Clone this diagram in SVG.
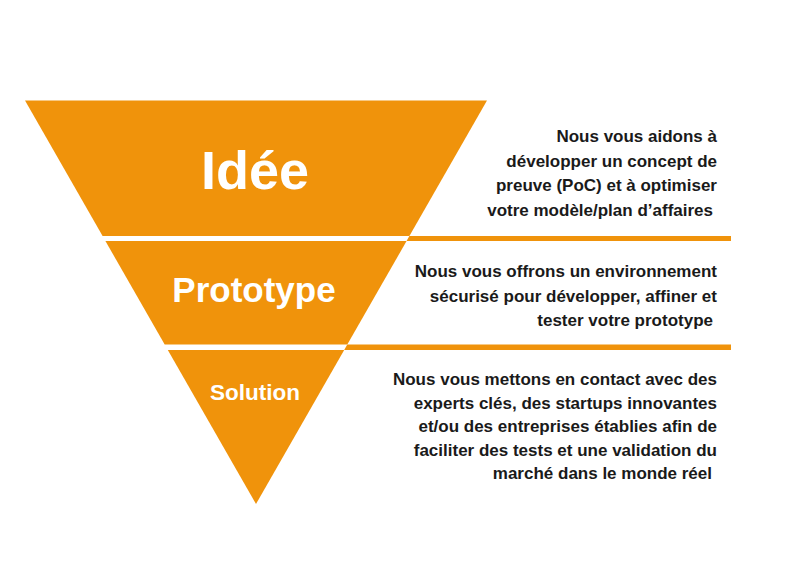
<svg xmlns="http://www.w3.org/2000/svg" width="800" height="566" viewBox="0 0 800 566">
  <style>
    .tier { fill: #F0930B; }
    .divider { fill: #F0930B; }
    .title { font-family: "Liberation Sans", Arial, sans-serif; font-weight: bold; fill: #ffffff; text-anchor: middle; }
    .desc { font-family: "Liberation Sans", Arial, sans-serif; font-weight: bold; font-size: 17px; fill: #1a1a1a; text-anchor: end; }
  </style>
  <rect x="0" y="0" width="800" height="566" fill="#ffffff"/>

  <g id="idee">
    <polygon class="tier" points="25,100.5 487,100.5 409.4,236 102.6,236"/>
    <text class="title" x="255" y="188.5" font-size="54">Idée</text>
  </g>

  <g id="prototype">
    <polygon class="tier" points="105.4,241 406.6,241 347.3,344.5 164.7,344.5"/>
    <text class="title" x="254" y="302" font-size="35">Prototype</text>
  </g>

  <g id="solution">
    <polygon class="tier" points="167.8,350 344.2,350 256,504"/>
    <text class="title" x="255" y="400" font-size="22.5">Solution</text>
  </g>

  <g id="connectors">
    <polygon class="divider" points="409.4,236 731,236 731,241 406.6,241"/>
    <polygon class="divider" points="347.3,344.5 731,344.5 731,350 344.2,350"/>
  </g>

  <g id="desc-idee">
    <text class="desc" x="717" y="142">Nous vous aidons à</text>
    <text class="desc" x="717" y="166.5">développer un concept de</text>
    <text class="desc" x="717" y="191">preuve (PoC) et à optimiser</text>
    <text class="desc" x="713" y="215.5">votre modèle/plan d’affaires</text>
  </g>

  <g id="desc-prototype">
    <text class="desc" x="717" y="277">Nous vous offrons un environnement</text>
    <text class="desc" x="717" y="301.5">sécurisé pour développer, affiner et</text>
    <text class="desc" x="713" y="325.5">tester votre prototype</text>
  </g>

  <g id="desc-solution">
    <text class="desc" x="717" y="384.5">Nous vous mettons en contact avec des</text>
    <text class="desc" x="717" y="408.5">experts clés, des startups innovantes</text>
    <text class="desc" x="717" y="432">et/ou des entreprises établies afin de</text>
    <text class="desc" x="717" y="455.5">faciliter des tests et une validation du</text>
    <text class="desc" x="712" y="479">marché dans le monde réel</text>
  </g>
</svg>
